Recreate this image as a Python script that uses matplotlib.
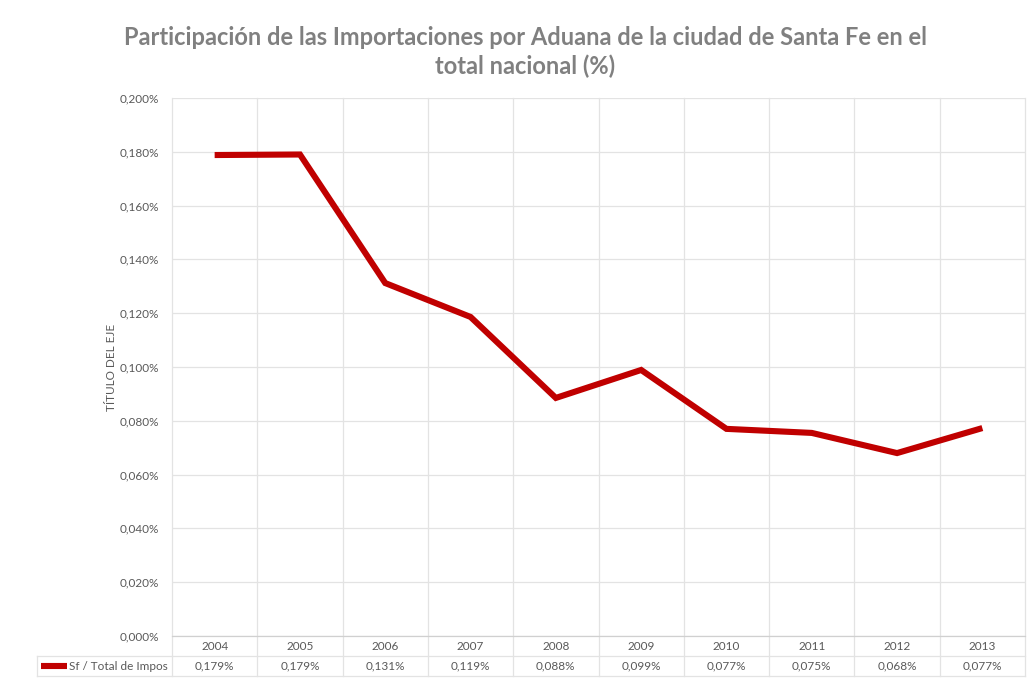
import matplotlib.pyplot as plt
from matplotlib.ticker import FuncFormatter

years = ['2004', '2005', '2006', '2007', '2008', '2009', '2010', '2011', '2012', '2013']
share = [0.1788, 0.1790, 0.1312, 0.1186, 0.0885, 0.0989, 0.0770, 0.0755, 0.0680, 0.0773]
series_name = 'Sf / Total de Impos'
table_labels = ['0,179%', '0,179%', '0,131%', '0,119%', '0,088%', '0,099%', '0,077%', '0,075%', '0,068%', '0,077%']

plt.rcParams['font.family'] = ['Lato', 'DejaVu Sans']
txt = '#595959'
grid = '#e3e3e3'
red = '#c00000'

W, H = 1027, 678
fig = plt.figure(figsize=(W / 100, H / 100), dpi=100)
ax = fig.add_axes([172 / W, 1 - 636 / H, (1025 - 172) / W, (636 - 98) / H])

x = list(range(len(years)))
ax.plot(x, share, color=red, lw=4.4, solid_capstyle='butt', solid_joinstyle='miter', zorder=5)
ax.set_xlim(-0.5, len(years) - 0.5)
ax.set_ylim(0, 0.2)
ax.set_yticks([i * 0.02 for i in range(11)])
ax.yaxis.set_major_formatter(FuncFormatter(lambda v, p: ('%.3f%%' % v).replace('.', ',')))
ax.tick_params(axis='y', length=0, labelsize=8.5, colors=txt, pad=9)
ax.set_xticks([])
ax.grid(axis='y', color=grid, lw=0.9)
ax.set_axisbelow(True)
for s in ax.spines.values():
    s.set_visible(False)
ax.set_ylabel('TÍTULO DEL EJE', fontsize=8.5, color=txt, labelpad=2)

# data table below the axis
tr = ax.get_xaxis_transform()
row = 20 / (636 - 98)
left = -0.5 - (172 - 37) / ((1025 - 172) / len(years))
for b in [i - 0.5 for i in range(len(years) + 1)]:
    ax.plot([b, b], [1, -2 * row], transform=tr, color=grid, lw=0.9, clip_on=False, zorder=1)
ax.plot([left, left], [-row, -2 * row], transform=tr, color=grid, lw=0.9, clip_on=False, zorder=1)
ax.plot([-0.5, len(years) - 0.5], [0, 0], transform=tr, color='#d0d0d0', lw=0.9, clip_on=False, zorder=1)
for yy in [-row, -2 * row]:
    ax.plot([left, len(years) - 0.5], [yy, yy], transform=tr, color=grid, lw=0.9, clip_on=False, zorder=1)
for i, (yr, lab) in enumerate(zip(years, table_labels)):
    ax.text(i, -row / 2, yr, transform=tr, ha='center', va='center', fontsize=8.5, color=txt)
    ax.text(i, -1.5 * row, lab, transform=tr, ha='center', va='center', fontsize=8.5, color=txt)
ax.plot([left + 0.05, left + 0.35], [-1.5 * row, -1.5 * row], transform=tr, color=red,
        lw=4.4, solid_capstyle='butt', clip_on=False)
ax.text(-0.55, -1.5 * row, series_name, transform=tr, ha='right', va='center', fontsize=8.5, color=txt)

fig.text(525 / W, 1 - 52 / H, 'Participación de las Importaciones por Aduana de la ciudad de Santa Fe en el\ntotal nacional (%)',
         ha='center', va='center', fontsize=17, fontweight='bold', color='#808080', linespacing=1.3)

fig.savefig('out.png', dpi=100)
